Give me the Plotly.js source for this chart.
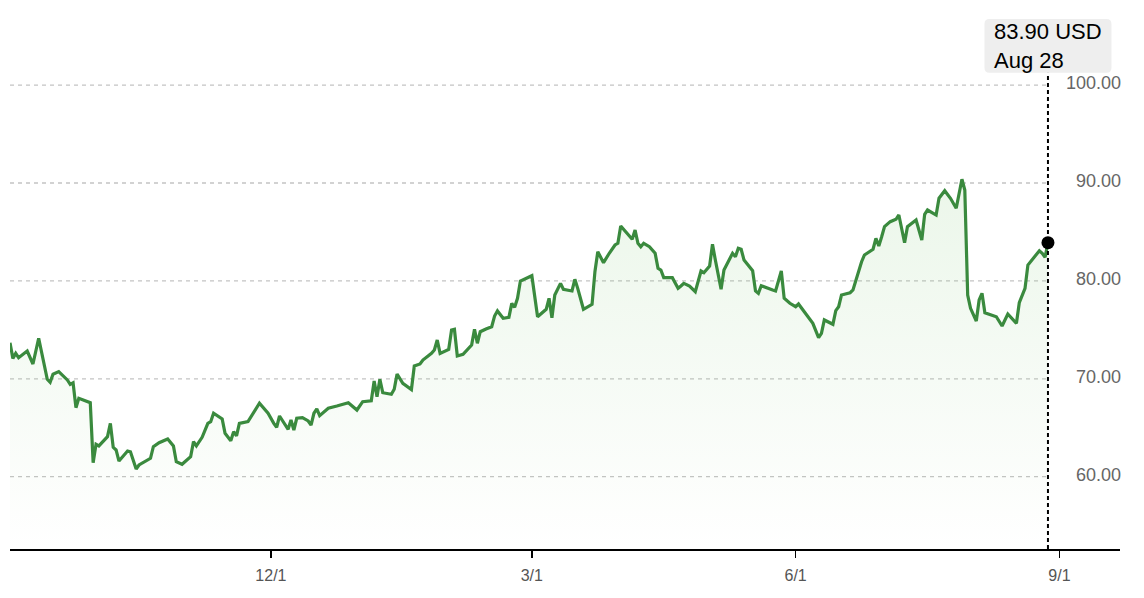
<!DOCTYPE html>
<html>
<head>
<meta charset="utf-8">
<script src="https://cdn.plot.ly/plotly-3.0.1.min.js"></script>
<style>
  html, body { margin: 0; padding: 0; background: #fff; }
  #chart { width: 1144px; height: 598px; }
</style>
</head>
<body>
<div id="chart"></div>
<script>
const dates = [
'2023-09-01','2023-09-02','2023-09-03','2023-09-04','2023-09-07','2023-09-09','2023-09-11','2023-09-14','2023-09-15','2023-09-16',
'2023-09-18','2023-09-21','2023-09-22','2023-09-23','2023-09-24','2023-09-25','2023-09-29','2023-09-30','2023-10-01','2023-10-02',
'2023-10-05','2023-10-06','2023-10-07','2023-10-08','2023-10-09','2023-10-12','2023-10-13','2023-10-15','2023-10-16','2023-10-19',
'2023-10-20','2023-10-21','2023-10-23','2023-10-26','2023-10-28','2023-10-29','2023-10-31','2023-11-03','2023-11-04','2023-11-05',
'2023-11-07','2023-11-09','2023-11-10','2023-11-11','2023-11-14','2023-11-15','2023-11-17','2023-11-18','2023-11-19','2023-11-20',
'2023-11-23','2023-11-27','2023-11-30','2023-12-02','2023-12-03','2023-12-04','2023-12-07','2023-12-08','2023-12-09','2023-12-10',
'2023-12-12','2023-12-14','2023-12-15','2023-12-16','2023-12-17','2023-12-18','2023-12-21','2023-12-24','2023-12-28','2023-12-31',
'2024-01-02','2024-01-05','2024-01-06','2024-01-07','2024-01-08','2024-01-09','2024-01-12','2024-01-13','2024-01-14','2024-01-16',
'2024-01-19','2024-01-20','2024-01-22','2024-01-23','2024-01-26','2024-01-27','2024-01-28','2024-01-29','2024-02-01','2024-02-02',
'2024-02-03','2024-02-04','2024-02-06','2024-02-09','2024-02-10','2024-02-11','2024-02-12','2024-02-14','2024-02-16','2024-02-17',
'2024-02-18','2024-02-20','2024-02-22','2024-02-23','2024-02-24','2024-02-25','2024-02-26','2024-03-01','2024-03-03','2024-03-06',
'2024-03-07','2024-03-08','2024-03-09','2024-03-11','2024-03-12','2024-03-15','2024-03-16','2024-03-17','2024-03-19','2024-03-22',
'2024-03-23','2024-03-24','2024-03-26','2024-03-28','2024-03-30','2024-03-31','2024-04-01','2024-04-05','2024-04-06','2024-04-07',
'2024-04-08','2024-04-09','2024-04-11','2024-04-13','2024-04-14','2024-04-15','2024-04-16','2024-04-19','2024-04-21','2024-04-22',
'2024-04-23','2024-04-25','2024-04-27','2024-04-29','2024-04-30','2024-05-02','2024-05-03','2024-05-04','2024-05-06','2024-05-07',
'2024-05-09','2024-05-10','2024-05-11','2024-05-12','2024-05-13','2024-05-14','2024-05-17','2024-05-18','2024-05-19','2024-05-20',
'2024-05-24','2024-05-25','2024-05-27','2024-05-28','2024-05-30','2024-06-01','2024-06-02','2024-06-04','2024-06-07','2024-06-09',
'2024-06-10','2024-06-11','2024-06-14','2024-06-15','2024-06-16','2024-06-17','2024-06-20','2024-06-21','2024-06-22','2024-06-24',
'2024-06-25','2024-06-28','2024-06-29','2024-06-30','2024-07-01','2024-07-02','2024-07-04','2024-07-06','2024-07-07','2024-07-09',
'2024-07-10','2024-07-12','2024-07-13','2024-07-15','2024-07-16','2024-07-17','2024-07-20','2024-07-21','2024-07-23','2024-07-25',
'2024-07-27','2024-07-29','2024-07-30','2024-07-31','2024-08-01','2024-08-03','2024-08-04','2024-08-05','2024-08-06','2024-08-10',
'2024-08-12','2024-08-14','2024-08-17','2024-08-18','2024-08-20','2024-08-21','2024-08-25','2024-08-26','2024-08-27','2024-08-28'
];

const prices = [
73.69, 72.09, 72.60, 72.16, 72.84, 71.51, 74.14, 69.95, 69.64, 70.46,
70.73, 69.88, 69.44, 69.60, 67.05, 68.01, 67.56, 61.43, 63.31, 63.14,
64.09, 65.45, 63.00, 62.73, 61.60, 62.63, 62.55, 60.79, 61.20, 61.78,
61.88, 63.06, 63.47, 63.85, 63.14, 61.53, 61.27, 62.04, 63.58, 63.14,
64.02, 65.45, 65.62, 66.48, 65.89, 64.43, 63.68, 64.60, 64.16, 65.45,
65.62, 67.50, 66.48, 65.45, 65.05, 66.20, 64.84, 65.79, 64.77, 65.97,
66.03, 65.69, 65.28, 66.48, 66.92, 66.23, 66.99, 67.22, 67.56, 66.81,
67.66, 67.76, 69.78, 68.17, 69.95, 68.58, 68.42, 68.93, 70.49, 69.54,
68.90, 71.31, 71.51, 71.92, 72.60, 72.94, 73.96, 72.60, 73.01, 74.98,
75.06, 72.33, 72.50, 73.45, 75.06, 73.63, 74.81, 75.09, 75.32, 76.41,
76.93, 76.18, 76.28, 77.71, 77.30, 78.22, 79.99, 80.53, 76.34, 77.10,
78.22, 76.24, 78.56, 79.75, 79.14, 78.97, 80.16, 79.24, 77.10, 77.61,
80.94, 82.98, 81.86, 82.82, 83.67, 83.84, 85.61, 84.25, 85.20, 83.84,
83.49, 83.84, 83.49, 82.82, 81.29, 81.11, 80.33, 80.33, 79.24, 79.48,
79.75, 79.48, 78.90, 81.01, 80.84, 81.52, 83.74, 82.13, 79.14, 81.11,
82.21, 82.82, 82.47, 83.33, 83.23, 82.13, 81.04, 78.97, 78.73, 79.51,
79.07, 78.97, 81.01, 78.22, 77.71, 77.36, 77.64, 76.85, 75.67, 74.20,
74.65, 76.01, 75.57, 76.96, 77.36, 78.56, 78.79, 79.07, 80.09, 81.96,
82.65, 83.23, 84.35, 83.57, 84.51, 85.54, 86.05, 86.29, 86.73, 83.90,
85.54, 86.05, 86.22, 84.18, 86.80, 87.24, 86.73, 88.44, 89.21, 88.44,
87.42, 90.38, 89.28, 78.56, 77.20, 75.90, 78.05, 78.73, 76.75, 76.34,
75.39, 76.62, 75.67, 77.77, 79.24, 81.62, 83.08, 82.82, 82.41, 83.90
];

const xTickVals = ['2023-12-01', '2024-03-01', '2024-06-01', '2024-09-01'];
const xTickText = ['12/1', '3/1', '6/1', '9/1'];
const yTickVals = [60, 70, 80, 90, 100];
const yTickText = ['60.00', '70.00', '80.00', '90.00', '100.00'];
const currency = 'USD';
const lastLabelDate = 'Aug 28';

const lastDate = dates[dates.length - 1];
const lastPrice = prices[prices.length - 1];
const font = 'Liberation Sans, Arial, Helvetica, sans-serif';

const lineTrace = {
  x: dates, y: prices, type: 'scatter', mode: 'lines',
  line: { color: '#3a8a3e', width: 3.2, shape: 'linear' },
  fill: 'tozeroy',
  fillgradient: {
    type: 'vertical', start: 52.6, stop: 91,
    colorscale: [[0, 'rgba(130,200,120,0)'], [1, 'rgba(130,200,120,0.16)']]
  },
  hoverinfo: 'skip'
};

const dotTrace = {
  x: [lastDate], y: [lastPrice], type: 'scatter', mode: 'markers',
  marker: { color: '#000', size: 13 }, hoverinfo: 'skip'
};

const gridShapes = yTickVals.map(v => ({
  type: 'line', xref: 'x', yref: 'y', x0: dates[0], x1: lastDate, y0: v, y1: v,
  line: { color: '#c4c4c4', width: 1.3, dash: '4px,4px' }, layer: 'below'
}));

const boxPath = 'M -58.5 -62.7 L 58.5 -62.7 Q 63.5 -62.7 63.5 -57.7 L 63.5 -14 Q 63.5 -9 58.5 -9 ' +
                'L -58.5 -9 Q -63.5 -9 -63.5 -14 L -63.5 -57.7 Q -63.5 -62.7 -58.5 -62.7 Z';

const shapes = gridShapes.concat([
  { type: 'line', xref: 'x', yref: 'paper', x0: lastDate, x1: lastDate, y0: 0, y1: 0.8837,
    line: { color: '#000', width: 2, dash: '4px,3px' }, layer: 'above' },
  { type: 'path', xref: 'x', yref: 'paper', xsizemode: 'pixel', ysizemode: 'pixel',
    xanchor: lastDate, yanchor: 1, path: boxPath,
    fillcolor: '#eeeeee', line: { width: 0 }, layer: 'above' }
]);

const layout = {
  width: 1144, height: 598,
  margin: { l: 10, r: 24, t: 10, b: 49 },
  paper_bgcolor: '#fff', plot_bgcolor: '#fff',
  showlegend: false, hovermode: false,
  font: { family: font },
  xaxis: {
    type: 'date', range: ['2023-09-01', '2024-09-22 03:00'],
    tickvals: xTickVals, ticktext: xTickText,
    ticks: 'outside', ticklen: 7, tickwidth: 1.5, tickcolor: '#000',
    showline: true, linecolor: '#000', linewidth: 2,
    showgrid: false, zeroline: false,
    tickfont: { family: font, size: 16, color: '#555' },
    ticklabelstandoff: 4
  },
  yaxis: {
    range: [52.615, 107.67], side: 'right', ticklabelposition: 'inside',
    tickvals: yTickVals, ticktext: yTickText,
    ticks: '', showgrid: false, zeroline: false, showline: false,
    tickfont: { family: font, size: 18, color: '#666' },
    ticklabelstandoff: -4, ticklabelshift: -2
  },
  shapes: shapes,
  annotations: [{
    xref: 'x', yref: 'paper', x: lastDate, y: 0.9336,
    xanchor: 'center', yanchor: 'middle', align: 'left', showarrow: false,
    text: lastPrice.toFixed(2) + ' ' + currency + '<br>' + lastLabelDate,
    font: { family: font, size: 22, color: '#000' }
  }]
};

Plotly.newPlot('chart', [lineTrace, dotTrace], layout, { staticPlot: true, displayModeBar: false });
</script>
</body>
</html>
